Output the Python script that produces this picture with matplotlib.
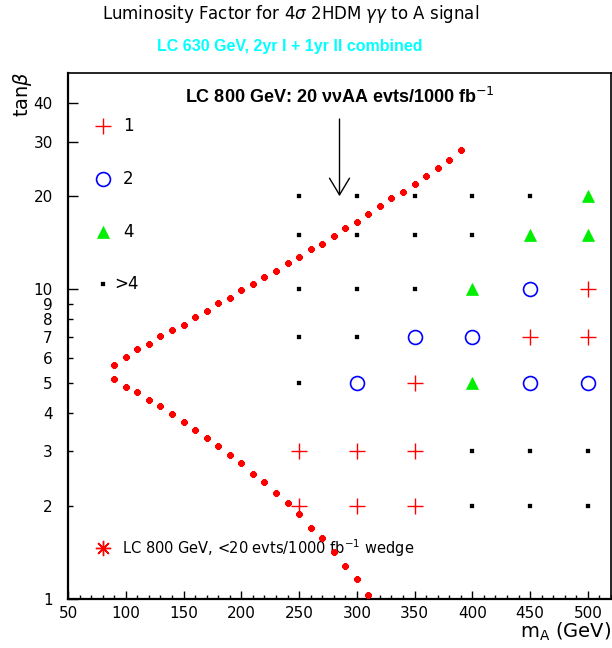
import matplotlib
matplotlib.use("Agg")
import matplotlib.pyplot as plt
from matplotlib.ticker import FixedLocator, FixedFormatter, NullFormatter

# scan grid: m_A (GeV) and tan(beta)
ma_grid = [250, 300, 350, 400, 450, 500]
tanb_grid = [20, 15, 10, 7, 5, 3, 2]
# luminosity factor per grid point (5 means ">4")
factor = [
    [5, 5, 5, 5, 5, 4],
    [5, 5, 5, 5, 4, 4],
    [5, 5, 5, 4, 2, 1],
    [5, 5, 2, 2, 1, 1],
    [5, 2, 1, 4, 2, 2],
    [1, 1, 1, 5, 5, 5],
    [1, 1, 1, 5, 5, 5],
]

# LC 800 GeV wedge boundary (<20 evts / 1000 fb^-1)
wedge_up_ma = [90, 100, 110, 120, 130, 140, 150, 160, 170, 180, 190, 200, 210,
               220, 230, 240, 250, 260, 270, 280, 290, 300, 310, 320, 330, 340,
               350, 360, 370, 380, 390]
wedge_up_tanb = [5.68, 6.04, 6.41, 6.65, 7.08, 7.37, 7.66, 8.16, 8.49, 9.01,
                 9.37, 9.98, 10.4, 11.0, 11.5, 12.2, 12.7, 13.5, 14.0, 14.9,
                 15.8, 16.5, 17.5, 18.6, 19.8, 20.6, 21.9, 23.2, 24.6, 26.1, 28.2]
wedge_lo_ma = [90, 100, 110, 120, 130, 140, 150, 160, 170, 180, 190, 200, 210,
               220, 230, 240, 250, 260, 270, 280, 290, 300, 310]
wedge_lo_tanb = [5.14, 4.84, 4.65, 4.38, 4.20, 3.96, 3.73, 3.51, 3.30, 3.11,
                 2.92, 2.75, 2.54, 2.39, 2.20, 2.04, 1.88, 1.70, 1.57, 1.42,
                 1.28, 1.16, 1.03]

# arrow marking the 20 evts point
arrow_ma = 285
arrow_from, arrow_to = 35.5, 20.0

legend_labels = ["1", "2", "4", ">4"]

styles = {
    1: dict(marker="+", color="#ff0000", ms=11, mew=1.0, mfc="none"),
    2: dict(marker="o", color="#0000ff", ms=10, mew=1.2, mfc="none"),
    4: dict(marker="^", color="#00ee00", ms=8, mew=0.5, mfc="#00ee00"),
    5: dict(marker="s", color="black", ms=2.2, mew=0.2, mfc="black"),
}
star = (8, 2, 0)

fig = plt.figure(figsize=(6.12, 6.48), dpi=100)
ax = fig.add_axes([68 / 612, 49 / 648, 543 / 612, 526 / 648])
ax.set_xlim(50, 520)
ax.set_yscale("log")
ax.set_ylim(1, 50)

for code, st in styles.items():
    xs, ys = [], []
    for i, tb in enumerate(tanb_grid):
        for j, m in enumerate(ma_grid):
            if factor[i][j] == code:
                xs.append(m)
                ys.append(tb)
    ax.plot(xs, ys, ls="none", marker=st["marker"], color=st["color"],
            ms=st["ms"], mew=st["mew"], mfc=st["mfc"], zorder=3)

for wx, wy in [(wedge_up_ma, wedge_up_tanb), (wedge_lo_ma, wedge_lo_tanb)]:
    ax.plot(wx, wy, ls="none", marker=star, color="#ff0000", ms=4.5, mew=1.6,
            zorder=4, clip_on=False)

ax.annotate("", xy=(arrow_ma, arrow_to), xytext=(arrow_ma, arrow_from),
            arrowprops=dict(arrowstyle="->,head_length=1.0,head_width=0.6",
                            color="black", lw=1.0, mutation_scale=12,
                            shrinkA=0, shrinkB=0))

# legend keys inside the frame
key_y = [0.899, 0.798, 0.698, 0.599]
text_x = [0.101, 0.101, 0.101, 0.086]
for code, ky, tx, lab in zip([1, 2, 4, 5], key_y, text_x, legend_labels):
    st = styles[code]
    ax.plot([0.0645], [ky], transform=ax.transAxes, ls="none",
            marker=st["marker"], color=st["color"], ms=st["ms"],
            mew=st["mew"], mfc=st["mfc"])
    ax.text(tx, ky, lab, transform=ax.transAxes, ha="left", va="center",
            fontsize=12, family="DejaVu Sans")

ax.plot([0.0645], [0.097], transform=ax.transAxes, ls="none", marker=star,
        color="#ff0000", ms=11, mew=1.0)
ax.text(0.1, 0.097, "LC 800 GeV, <20 evts/1000 fb$^{-1}$ wedge",
        transform=ax.transAxes, ha="left", va="center", fontsize=10.5,
        family="DejaVu Sans")

ax.text(0.501, 0.954, "LC 800 GeV: 20 \u03bd\u03bdAA evts/1000 fb$^{-1}$",
        transform=ax.transAxes, ha="center", va="center", fontsize=13,
        fontweight="bold", family="Liberation Sans")

# axes ticks
ax.xaxis.set_major_locator(FixedLocator([50, 100, 150, 200, 250, 300, 350, 400, 450, 500]))
ax.xaxis.set_minor_locator(FixedLocator(list(range(50, 521, 10))))
ax.yaxis.set_major_locator(FixedLocator([1, 10, 20, 30, 40]))
ax.yaxis.set_major_formatter(FixedFormatter(["1", "10", "20", "30", "40"]))
ax.yaxis.set_minor_locator(FixedLocator([2, 3, 4, 5, 6, 7, 8, 9]))
ax.yaxis.set_minor_formatter(FixedFormatter(["2", "3", "4", "5", "6", "7", "8", "9"]))
ax.xaxis.set_minor_formatter(NullFormatter())
ax.tick_params(axis="both", which="both", direction="in", labelsize=11)
ax.tick_params(axis="x", which="major", length=6, width=1, pad=5)
ax.tick_params(axis="x", which="minor", length=3, width=1)
ax.tick_params(axis="y", which="major", length=7, width=1, pad=11)
ax.tick_params(axis="y", which="minor", length=3.5, width=1, pad=11)
for lab in ax.get_xticklabels() + ax.get_yticklabels(which="both"):
    lab.set_family("DejaVu Sans")
for side in ["left", "bottom"]:
    ax.spines[side].set_linewidth(1.6)
for side in ["top", "right"]:
    ax.spines[side].set_linewidth(1.2)

fig.text(22 / 612, 1 - 94 / 648, r"tan$\beta$", rotation=90, ha="center",
         va="center", fontsize=14, family="DejaVu Sans")
fig.text(611 / 612, 1 - 632 / 648, r"m$_{\rm A}$ (GeV)", ha="right",
         va="center", fontsize=14, family="DejaVu Sans")

fig.text(291 / 612, 1 - 14 / 648,
         r"Luminosity Factor for 4$\sigma$ 2HDM $\gamma\gamma$ to A signal",
         ha="center", va="center", fontsize=12, family="DejaVu Sans")
fig.text(290 / 612, 1 - 46 / 648, "LC 630 GeV, 2yr I + 1yr II combined",
         ha="center", va="center", fontsize=11.5, fontweight="bold",
         color="#00ffff", family="Liberation Sans")

fig.savefig("out.png", dpi=100)
